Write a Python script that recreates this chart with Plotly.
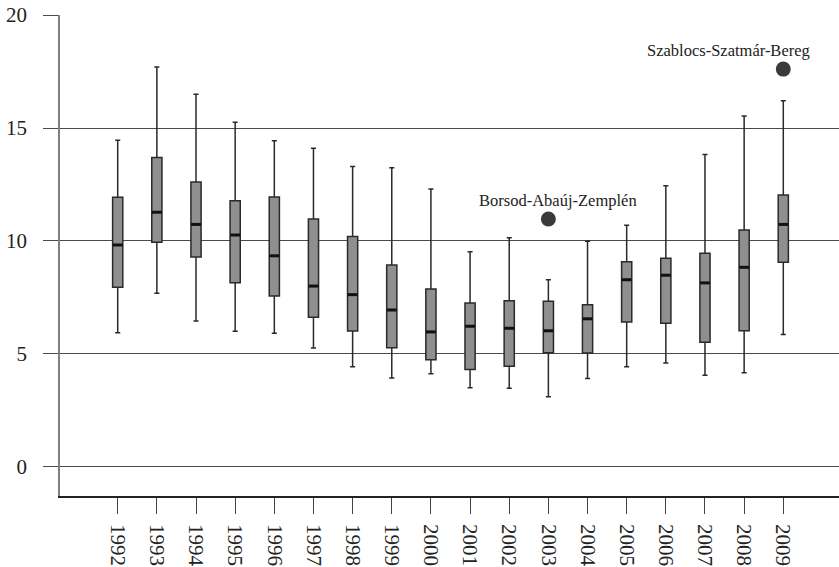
import plotly.graph_objects as go

# Yearly distribution (per county) — box statistics
years = [str(y) for y in range(1992, 2010)]
lower = [5.93, 7.68, 6.45, 6.00, 5.91, 5.26, 4.43, 3.93, 4.12, 3.50, 3.47, 3.10, 3.91, 4.43, 4.59, 4.05, 4.16, 5.86]
q1 = [7.95, 9.94, 9.29, 8.15, 7.56, 6.62, 6.01, 5.27, 4.74, 4.31, 4.45, 5.05, 5.04, 6.41, 6.35, 5.51, 6.02, 9.05]
median = [9.82, 11.27, 10.73, 10.26, 9.34, 8.00, 7.62, 6.94, 5.97, 6.22, 6.13, 6.02, 6.55, 8.28, 8.48, 8.14, 8.83, 10.73]
q3 = [11.93, 13.69, 12.61, 11.78, 11.94, 10.97, 10.19, 8.93, 7.87, 7.25, 7.35, 7.33, 7.17, 9.08, 9.23, 9.45, 10.48, 12.03]
upper = [14.46, 17.70, 16.49, 15.25, 14.44, 14.10, 13.29, 13.24, 12.30, 9.52, 10.14, 8.28, 9.98, 10.69, 12.44, 13.83, 15.53, 16.21]

# Outlying counties
out_years = ["2003", "2009"]
out_values = [10.97, 17.61]
out_names = ["Borsod-Abaúj-Zemplén", "Szablocs-Szatmár-Bereg"]
out_label_shift = [10, -55]

serif = "Liberation Serif"

fig = go.Figure()

fig.add_trace(go.Box(
    x=years,
    q1=q1, median=median, q3=q3,
    lowerfence=lower, upperfence=upper,
    width=0.26,
    whiskerwidth=0.5,
    fillcolor="#8f8f91",
    line=dict(color="#2a2a2a", width=1.5),
    boxpoints=False,
    hoverinfo="skip",
    showlegend=False,
))

# Bold median bars
fig.add_trace(go.Scatter(
    x=years, y=median, mode="markers",
    marker=dict(symbol="line-ew", size=7, line=dict(color="#111111", width=3)),
    hoverinfo="skip", showlegend=False,
))

fig.add_trace(go.Scatter(
    x=out_years, y=out_values, mode="markers",
    marker=dict(symbol="circle", size=15, color="#3a3a3a"),
    hoverinfo="skip", showlegend=False,
))

# Category axis: annotations are placed by category index
for yr, v, name, dx in zip(out_years, out_values, out_names, out_label_shift):
    fig.add_annotation(
        x=years.index(yr), y=v, xref="x", yref="y", text=name, showarrow=False,
        xshift=dx, yshift=19,
        font=dict(family=serif, size=16.5, color="#222222"),
    )

fig.update_layout(
    width=839, height=567,
    margin=dict(l=60, r=0, t=15, b=71),
    plot_bgcolor="white", paper_bgcolor="white",
    font=dict(family=serif, size=21, color="#222222"),
)

fig.update_xaxes(
    type="category",
    range=[-1.474, 18.423],
    showgrid=False,
    showline=True, linecolor="#222222", linewidth=1.5,
    ticks="outside", ticklen=16, tickwidth=1.2, tickcolor="#444444",
    tickangle=90,
    ticklabelstandoff=6,
    tickfont=dict(family=serif, size=21, color="#222222"),
)

fig.update_yaxes(
    range=[-1.298, 20.005],
    tickvals=[0, 5, 10, 15, 20],
    showgrid=True, gridcolor="#4a4a4a", gridwidth=1.2,
    zeroline=False,
    showline=True, linecolor="#808080", linewidth=1.5,
    ticks="outside", ticklen=15, tickwidth=1.2, tickcolor="#4a4a4a",
    ticklabelstandoff=12,
    tickfont=dict(family=serif, size=21, color="#222222"),
)

fig.write_html("out.html")
